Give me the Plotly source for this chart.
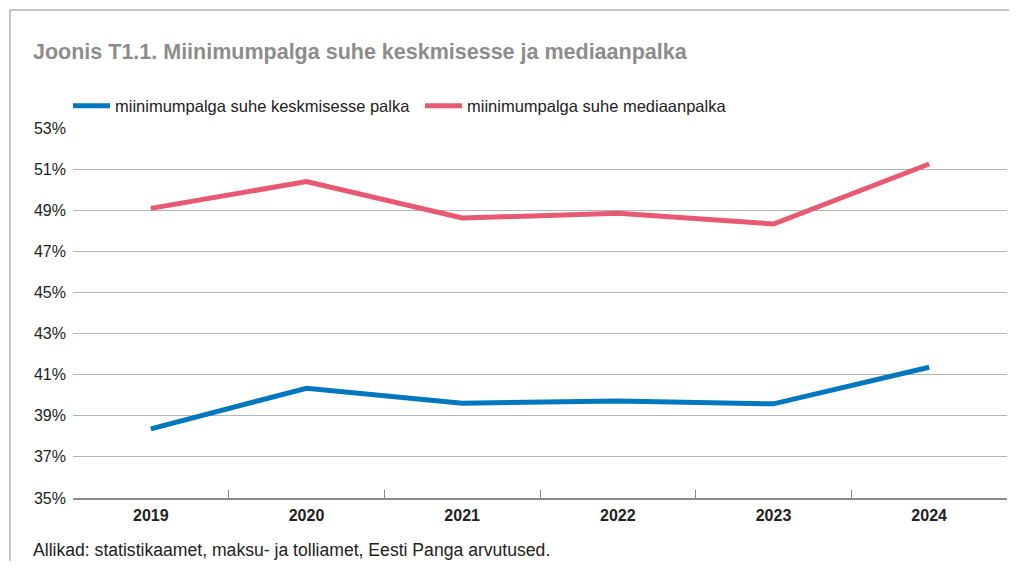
import plotly.graph_objects as go

years = ["2019", "2020", "2021", "2022", "2023", "2024"]
avg_ratio = [38.36, 40.34, 39.61, 39.72, 39.58, 41.36]
median_ratio = [49.09, 50.39, 48.62, 48.85, 48.33, 51.25]
y_ticks = [35, 37, 39, 41, 43, 45, 47, 49, 51, 53]
y_tick_labels = [f"{v}%" for v in y_ticks]

series_names = ["miinimumpalga suhe keskmisesse palka", "miinimumpalga suhe mediaanpalka"]
colors = ["#0077BE", "#E85A71"]

OFF = 8  # browser body margin
W, H = 1017 - 2 * OFF, 569 - 2 * OFF
# plot area in reference-pixel coordinates
PL, PR, PT, PB = 73, 1007, 128, 498
ml, mt = PL - OFF, PT - OFF
mr = W - (PR - OFF)
mb = H - (PB - OFF)
pw, ph = W - ml - mr, H - mt - mb


def px_x(p):
    return (p - OFF - ml) / pw


def px_y(p):
    return (H - mb - (p - OFF)) / ph


fig = go.Figure()
for name, vals, c in zip(series_names, [avg_ratio, median_ratio], colors):
    fig.add_trace(go.Scatter(x=years, y=vals, mode="lines", name=name,
                             line=dict(color=c, width=5), hoverinfo="skip"))

font_family = "Liberation Sans, Arial, sans-serif"
fig.update_layout(
    width=W, height=H,
    margin=dict(l=ml, r=mr, t=mt, b=mb, autoexpand=False),
    paper_bgcolor="white", plot_bgcolor="white",
    font=dict(family=font_family, size=16, color="#222222"),
    showlegend=True,
    legend=dict(orientation="h", x=px_x(68), xanchor="left", y=px_y(106), yanchor="middle",
                font=dict(size=16.5, color="#222222"), entrywidth=300, entrywidthmode="pixels",
                itemwidth=37,
                bgcolor="rgba(0,0,0,0)", itemclick=False, tracegroupgap=0),
    xaxis=dict(type="category", range=[-0.5, 5.5], showgrid=False, showline=True,
               linecolor="#8a8a8a", linewidth=1.5, ticks="inside", tickson="boundaries",
               ticklen=8, tickcolor="#8a8a8a", tickwidth=1.2, ticklabelstandoff=2,
               tickfont=dict(size=16, color="#222222", family=font_family, weight="bold")),
    yaxis=dict(range=[35, 53], tickmode="array", tickvals=y_ticks, ticktext=y_tick_labels,
               showgrid=True, gridcolor="#b4b4b4", gridwidth=1.3, zeroline=False, showline=False,
               ticks="", ticklabelstandoff=6, tickfont=dict(size=16, color="#222222")),
)

fig.add_annotation(text="Joonis T1.1. Miinimumpalga suhe keskmisesse ja mediaanpalka",
                   xref="paper", yref="paper", x=px_x(31), y=px_y(52), xanchor="left", yanchor="middle",
                   showarrow=False, font=dict(size=21.5, color="#8c8c8c", family=font_family, weight="bold"))
fig.add_annotation(text="Allikad: statistikaamet, maksu- ja tolliamet, Eesti Panga arvutused.",
                   xref="paper", yref="paper", x=px_x(31), y=px_y(550), xanchor="left", yanchor="middle",
                   showarrow=False, font=dict(size=17.6, color="#222222", family=font_family))

# frame lines
fig.add_shape(type="line", xref="paper", yref="paper", x0=px_x(10), x1=px_x(1017), y0=px_y(10), y1=px_y(10),
              line=dict(color="#b0b0b0", width=1.5))
fig.add_shape(type="line", xref="paper", yref="paper", x0=px_x(10), x1=px_x(10), y0=px_y(10), y1=px_y(569),
              line=dict(color="#b0b0b0", width=1.5))

fig.write_html("out.html")
